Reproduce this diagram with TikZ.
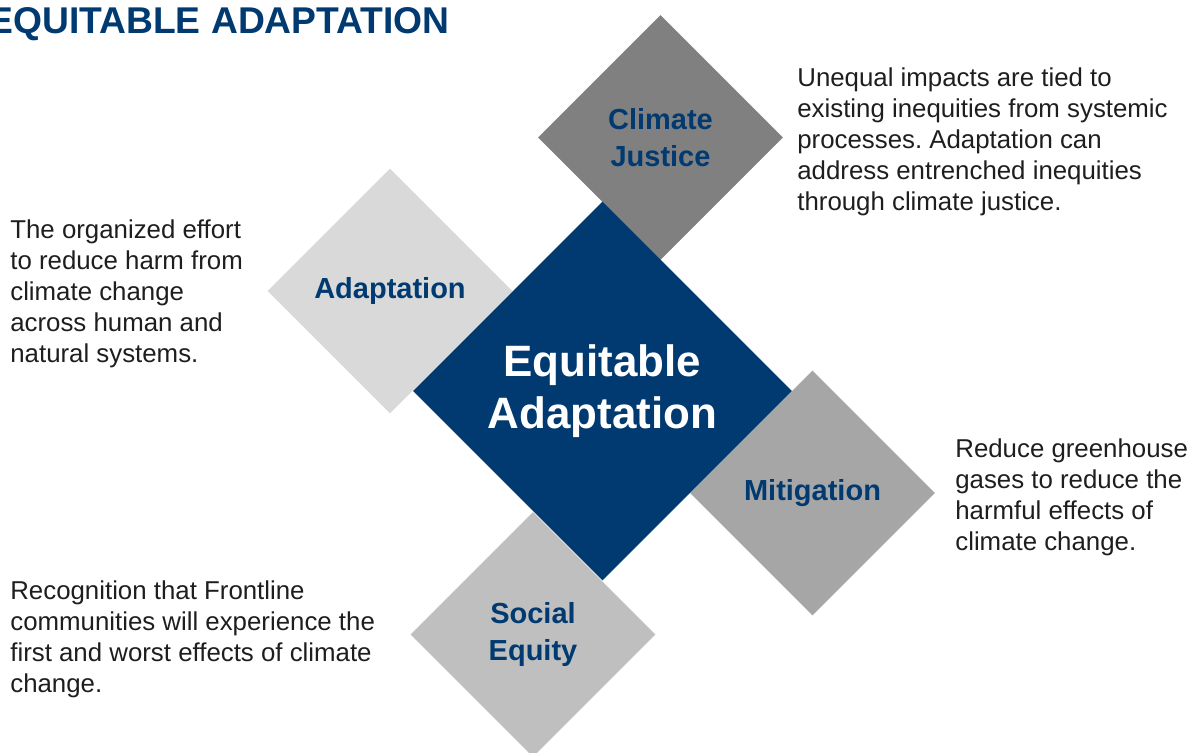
\documentclass[tikz,border=0pt]{standalone}
\usepackage{fontspec}
\setmainfont{Liberation Sans}
\usetikzlibrary{shapes.geometric}
\frenchspacing
\definecolor{navy}{RGB}{0,58,112}
\definecolor{ink}{RGB}{30,30,30}
\definecolor{cjgray}{RGB}{128,128,128}
\definecolor{adgray}{RGB}{217,217,217}
\definecolor{mitgray}{RGB}{166,166,166}
\definecolor{seqgray}{RGB}{191,191,191}
\begin{document}
\begin{tikzpicture}[x=0.02cm,y=-0.02cm,
  tile/.style={diamond, minimum size=4.9cm, inner sep=0pt, text=navy, align=center,
    font=\fontsize{16.5}{21}\selectfont\bfseries},
  core/.style={diamond, fill=navy, minimum size=7.58cm, inner sep=0pt, text=white, align=center,
    font=\fontsize{25}{30}\selectfont\bfseries},
  blurb/.style={anchor=base west, inner sep=0pt, align=left, text=ink,
    font=\fontsize{14.7}{17.6}\selectfont}]
\useasboundingbox (0,0) rectangle (1190,752);
\clip (0,0) rectangle (1190,752);
% title
\node[anchor=base west, inner sep=0pt, text=navy, font=\fontsize{21.2}{25}\selectfont\bfseries] (title) at (-12,33) {EQUITABLE ADAPTATION};
% the four tiles round the core
\node[tile, fill=cjgray] (cj) at (660.5,137.5) {Climate\\Justice};
\node[tile, fill=adgray] (adapt) at (390,291) {Adaptation};
\node[tile, fill=mitgray] (mitig) at (812.5,493) {Mitigation};
\node[tile, fill=seqgray] (soceq) at (533,634.5) {Social\\Equity};
\node[core] (eqad) at (602.5,391) {Equitable\\Adaptation};
% descriptions (placed by the baseline of their last line)
\node[blurb] (cjtext) at (797,210) {Unequal impacts are tied to\\existing inequities from systemic\\processes. Adaptation can\\address entrenched inequities\\through climate justice.};
\node[blurb] (adtext) at (10,362) {The organized effort\\to reduce harm from\\climate change\\across human and\\natural systems.};
\node[blurb] (mittext) at (955,550) {Reduce greenhouse\\gases to reduce the\\harmful effects of\\climate change.};
\node[blurb] (seqtext) at (10,692) {Recognition that Frontline\\communities will experience the\\first and worst effects of climate\\change.};
\end{tikzpicture}
\end{document}
